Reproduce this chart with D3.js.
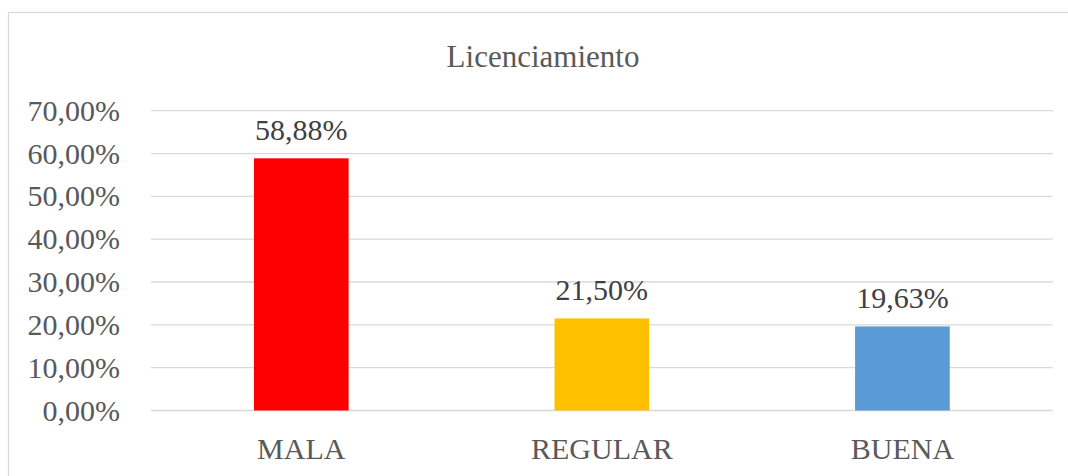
<!DOCTYPE html>
<html>
<head>
<meta charset="utf-8">
<script src="https://cdn.jsdelivr.net/npm/d3@7"></script>
<style>
  body { margin: 0; background: #fff; }
  text { font-family: "Liberation Serif", "Times New Roman", serif; }
</style>
</head>
<body>
<svg width="1068" height="476"></svg>
<script>
// datos del gráfico
var categorias = ["MALA", "REGULAR", "BUENA"];
var valores = [58.88, 21.50, 19.63];
var colores = ["#ff0000", "#ffc000", "#5b9bd5"];
var ticks = [0, 10, 20, 30, 40, 50, 60, 70];

var svg = d3.select("svg"),
  width = +svg.attr("width"),
  height = +svg.attr("height");

// borde del área del gráfico
svg.append("rect")
  .attr("x", 8.5)
  .attr("y", 12.5)
  .attr("width", width + 10)
  .attr("height", height + 10)
  .attr("fill", "#fff")
  .attr("stroke", "#d9d9d9")
  .attr("stroke-width", 1.3);

var fmt = function (v) { return v.toFixed(2).replace(".", ",") + "%"; };

var x = d3.scaleBand()
  .domain(categorias)
  .range([151, 1052.7])
  .paddingInner(0.685)
  .paddingOuter(0.3425);

var y = d3.scaleLinear()
  .domain([0, 70])
  .range([410.5, 110.7]);

// título
svg.append("text")
  .attr("x", 543)
  .attr("y", 66.5)
  .attr("text-anchor", "middle")
  .style("font-size", "31px")
  .style("fill", "#595959")
  .text("Licenciamiento");

// líneas de cuadrícula
svg.append("g")
  .selectAll("line")
  .data(ticks)
  .enter().append("line")
  .attr("x1", 151)
  .attr("x2", 1052.7)
  .attr("y1", function (d) { return y(d); })
  .attr("y2", function (d) { return y(d); })
  .attr("stroke", "#d9d9d9")
  .attr("stroke-width", 1.3);

// etiquetas del eje Y
svg.append("g")
  .selectAll("text")
  .data(ticks)
  .enter().append("text")
  .attr("x", 120)
  .attr("y", function (d) { return y(d) + 10; })
  .attr("text-anchor", "end")
  .style("font-size", "30px")
  .style("fill", "#595959")
  .text(function (d) { return fmt(d); });

// barras
svg.append("g")
  .selectAll("rect")
  .data(valores)
  .enter().append("rect")
  .attr("x", function (d, i) { return x(categorias[i]); })
  .attr("y", function (d) { return y(d); })
  .attr("width", x.bandwidth())
  .attr("height", function (d) { return y(0) - y(d); })
  .attr("fill", function (d, i) { return colores[i]; });

// etiquetas de datos
svg.append("g")
  .selectAll("text")
  .data(valores)
  .enter().append("text")
  .attr("x", function (d, i) { return x(categorias[i]) + x.bandwidth() / 2; })
  .attr("y", function (d) { return y(d) - 18; })
  .attr("text-anchor", "middle")
  .style("font-size", "30px")
  .style("fill", "#404040")
  .text(function (d) { return fmt(d); });

// etiquetas de categorías
svg.append("g")
  .selectAll("text")
  .data(categorias)
  .enter().append("text")
  .attr("x", function (d) { return x(d) + x.bandwidth() / 2; })
  .attr("y", 458.5)
  .attr("text-anchor", "middle")
  .style("font-size", "30px")
  .style("fill", "#595959")
  .text(function (d) { return d; });
</script>
</body>
</html>
